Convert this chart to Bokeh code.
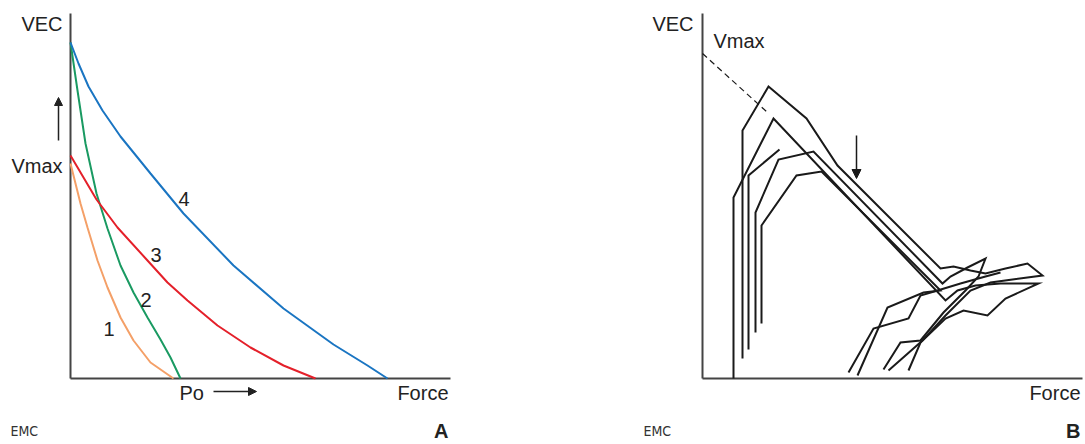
from bokeh.plotting import figure
from bokeh.layouts import row
from bokeh.models import Label, Arrow, NormalHead, Range1d
from bokeh.embed import file_html
from bokeh.resources import INLINE

# ---------------- Panel A data (force, velocity) ----------------
curve1_x = [0, 5, 10, 17, 27, 37, 50, 63, 80, 103]
curve1_y = [215, 195, 175, 151, 118, 91, 61, 38, 16, 0]
curve2_x = [0, 7, 15, 26, 37, 50, 63, 77, 90, 100, 110]
curve2_y = [336, 288, 235, 185, 150, 113, 86, 61, 39, 21, 0]
curve3_x = [0, 26, 47, 77, 97, 117, 147, 180, 213, 245]
curve3_y = [223, 179, 151, 118, 96, 78, 53, 31, 13, 0]
curve4_x = [0, 8, 18, 32, 50, 80, 113, 163, 213, 263, 297, 317]
curve4_y = [336, 315, 292, 268, 242, 205, 165, 113, 70, 34, 13, 0]
curve_labels = ["1", "2", "3", "4"]
curve_label_x = [33, 70, 80, 108]
curve_label_y = [50, 79, 124, 180]
curve_colors = ["#f4a068", "#1a9a62", "#e4202a", "#1a75c2"]
axis_a_x = [0, 380]
axis_a_y = [0, 365]

# ---------------- Panel B data (loops) ----------------
loop1_x = [31, 31, 71, 243, 255, 273, 298, 336, 303, 285, 261, 243, 218, 206]
loop1_y = [0, 181, 260, 78, 88, 93, 95, 95, 80, 63, 68, 60, 36, 8]
loop2_x = [40, 40, 66, 104, 135, 238, 251, 268, 283, 303, 325, 340, 310, 288, 268, 243, 220, 186]
loop2_y = [20, 248, 292, 260, 213, 110, 112, 108, 105, 110, 115, 103, 99, 96, 88, 63, 38, 8]
loop3_x = [46, 46, 77]
loop3_y = [29, 203, 229]
loop4_x = [53, 53, 76, 111, 240, 248, 265, 283, 276, 263, 241, 218, 198, 181]
loop4_y = [46, 166, 219, 227, 95, 102, 111, 120, 102, 88, 66, 38, 36, 9]
loop5_x = [59, 59, 94, 119, 238, 221, 185, 155]
loop5_y = [55, 153, 203, 207, 88, 86, 71, 3]
loop6_x = [146, 171, 206, 218, 235, 258, 283, 298]
loop6_y = [6, 50, 60, 83, 88, 95, 102, 106]
vmax_dash_x = [0, 65]
vmax_dash_y = [325, 266]
axis_b_x = [0, 380]
axis_b_y = [0, 365]

FONT = "Liberation Sans"
LOGO_FONT = "DejaVu Sans Condensed"
TXT = "#222222"
AX = "#444444"
FS = "20px"


def make_fig(width, x0, x1):
    p = figure(width=width, height=444,
               x_range=Range1d(x0, x1), y_range=Range1d(-66, 378),
               output_backend="svg", toolbar_location=None,
               min_border=0, min_border_left=0, min_border_right=0,
               min_border_top=0, min_border_bottom=0)
    p.xaxis.visible = False
    p.yaxis.visible = False
    p.grid.visible = False
    p.outline_line_color = None
    p.background_fill_color = "white"
    p.border_fill_color = "white"
    return p


def axes(p, ax_x, ax_y):
    # axis lines: vertical (velocity) and horizontal (force)
    p.segment(x0=[0, 0], y0=[0, 0], x1=[0, ax_x[1]], y1=[ax_y[1], 0],
              line_color=AX, line_width=2)


def lab(p, x, y, text, align="left", size=FS, bold=False, font=FONT, color=TXT):
    p.add_layout(Label(x=x, y=y, text=text, text_align=align,
                       text_baseline="alphabetic", text_font=font,
                       text_font_size=size, text_color=color,
                       text_font_style="bold" if bold else "normal"))


# ---------------- Panel A ----------------
pa = make_fig(460, -70, 390)
axes(pa, axis_a_x, axis_a_y)
for xs, ys, c in zip([curve1_x, curve2_x, curve3_x, curve4_x],
                     [curve1_y, curve2_y, curve3_y, curve4_y], curve_colors):
    pa.line(xs, ys, line_color=c, line_width=2)
for t, x, y in zip(curve_labels, curve_label_x, curve_label_y):
    lab(pa, x, y, t)
lab(pa, -8, 355, "VEC", align="right")
lab(pa, -8, 213, "Vmax", align="right")
lab(pa, 109, -14, "Po")
lab(pa, 378, -14, "Force", align="right")
lab(pa, 378, -52, "A", align="right", size="20px", bold=True)
lab(pa, -60, -52, "EMC", size="14px", font=LOGO_FONT, color="#333333")
pa.add_layout(Arrow(end=NormalHead(size=8, fill_color=TXT, line_color=TXT),
                    x_start=-12, y_start=238, x_end=-12, y_end=281,
                    line_color=TXT, line_width=1.5))
pa.add_layout(Arrow(end=NormalHead(size=8, fill_color=TXT, line_color=TXT),
                    x_start=143, y_start=-13, x_end=186, y_end=-13,
                    line_color=TXT, line_width=1.5))

# ---------------- Panel B ----------------
pb = make_fig(625, -242, 383)
axes(pb, axis_b_x, axis_b_y)
for xs, ys in zip([loop1_x, loop2_x, loop3_x, loop4_x, loop5_x, loop6_x],
                  [loop1_y, loop2_y, loop3_y, loop4_y, loop5_y, loop6_y]):
    pb.line(xs, ys, line_color="#1a1a1a", line_width=2, line_join="miter")
pb.line(vmax_dash_x, vmax_dash_y, line_color="#1a1a1a", line_width=1.2, line_dash="6 4")
pb.add_layout(Arrow(end=NormalHead(size=9, fill_color="#1a1a1a", line_color="#1a1a1a"),
                    x_start=154, y_start=243, x_end=154, y_end=200,
                    line_color="#1a1a1a", line_width=1.5))
lab(pb, -9, 355, "VEC", align="right")
lab(pb, 11, 338, "Vmax")
lab(pb, 378, -14, "Force", align="right")
lab(pb, 378, -52, "B", align="right", size="20px", bold=True)
lab(pb, -59, -52, "EMC", size="14px", font=LOGO_FONT, color="#333333")

layout = row(pa, pb)
open("out.html", "w").write(file_html(layout, INLINE))
